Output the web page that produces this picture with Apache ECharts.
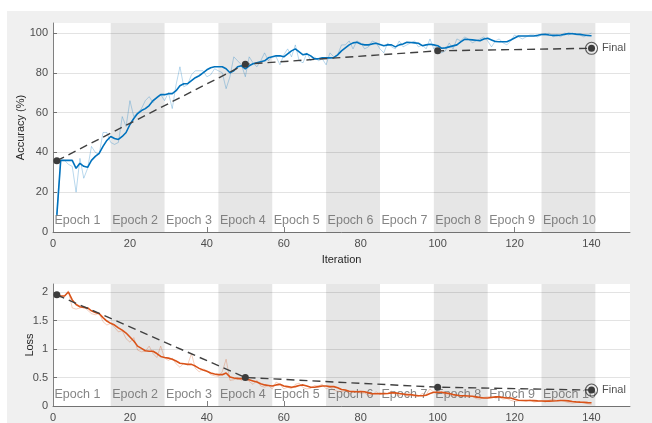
<!DOCTYPE html>
<html>
<head>
<meta charset="utf-8">
<script src="https://cdn.jsdelivr.net/npm/echarts@6/dist/echarts.min.js"></script>
<style>
  html, body { margin: 0; padding: 0; background: #fff; }
  #chart { width: 652px; height: 423px; }
</style>
</head>
<body>
<div id="chart"></div>
<script>
// Mini-batch accuracy (%) per iteration 1..140
const accRaw = [
  8, 36, 36, 34, 33, 20, 37, 27, 32, 43,
  40, 39, 50, 50, 45, 44, 45, 58, 53, 66,
  58, 60, 62, 66, 68, 65, 68, 69, 66, 70,
  62, 74, 83, 73, 74, 79, 81, 81, 81, 78,
  79, 82, 81, 80, 72, 78, 88, 86, 84, 78,
  88, 85, 83, 86, 90, 86, 88, 88, 84, 89,
  92, 88, 94, 86, 85, 90, 86, 88, 86, 87,
  84, 90, 88, 89, 94, 94, 96, 92, 96, 95,
  92, 93, 96, 95, 92, 90, 95, 93, 92, 96,
  93, 94, 95, 96, 93, 94, 92, 97, 92, 94,
  90, 91, 95, 92, 97, 96, 98, 97, 95, 96,
  97, 98, 96, 93, 96, 97, 95, 94, 96, 99,
  98, 97, 98, 99, 99, 98, 99, 99, 100, 98,
  99, 98, 100, 99, 100, 99, 99, 98, 99, 100
];
// Smoothed training accuracy (%)
const accSmooth = [
  8.6, 36, 36, 36, 36, 32, 34.5, 33, 32.5, 36,
  38, 39.5, 43, 46, 48, 47, 46.5, 48, 50, 54,
  57, 59.5, 61, 62, 63.5, 66, 67.5, 69, 69, 69.5,
  69.5, 71, 73.5, 74.5, 74.5, 76, 77.5, 78.5, 80, 81.5,
  82.5, 83, 83, 83, 82, 80, 81, 83, 83.5, 82,
  83.5, 84.5, 85, 85.5, 86, 87.5, 88, 88.5, 88.5, 88,
  89.5, 91, 92, 90.5, 89, 89.5, 88.5, 87, 87, 87.5,
  87.5, 87.5, 87.6, 89, 91, 92.5, 94, 95, 95.3, 94.5,
  94, 94, 94.5, 94.8, 94.2, 93.6, 94, 94, 93, 94,
  94.5, 95.3, 95.2, 95, 94.8, 93.6, 94, 94.3, 94, 93.6,
  92.3, 92.5, 93, 93.5, 94, 95.5, 96.8, 96.7, 96.5, 96.3,
  96.1, 97, 97.3, 96.5, 95.7, 95.6, 95.6, 95.6, 96.5, 97.5,
  98.5, 98.5, 98.5, 98.5, 98.5, 98.8, 99.2, 99.3, 99, 98.8,
  98.8, 99, 99.3, 99.7, 99.6, 99.4, 99.3, 99, 98.7, 98.6
];
// Mini-batch loss per iteration
const lossRaw = [
  1.96, 1.9, 1.92, 2.02, 1.72, 1.7, 1.72, 1.74, 1.68, 1.62,
  1.6, 1.63, 1.48, 1.42, 1.45, 1.38, 1.3, 1.32, 1.18, 1.12,
  1.2, 0.98, 0.95, 0.96, 1.05, 0.92, 0.85, 1.05, 0.84, 0.8,
  0.84, 0.74, 0.68, 0.75, 0.72, 0.92, 0.66, 0.6, 0.65, 0.62,
  0.55, 0.53, 0.52, 0.6, 0.82, 0.45, 0.46, 0.5, 0.45, 0.52,
  0.43, 0.38, 0.45, 0.35, 0.33, 0.36, 0.3, 0.42, 0.38, 0.3,
  0.33, 0.3, 0.38, 0.4, 0.32, 0.3, 0.31, 0.36, 0.35, 0.38,
  0.3, 0.33, 0.28, 0.26, 0.25, 0.27, 0.22, 0.24, 0.26, 0.22,
  0.23, 0.18, 0.2, 0.25, 0.2, 0.24, 0.22, 0.26, 0.2, 0.18,
  0.22, 0.17, 0.2, 0.16, 0.17, 0.22, 0.2, 0.3, 0.24, 0.2,
  0.25, 0.19, 0.2, 0.15, 0.2, 0.16, 0.19, 0.15, 0.17, 0.13,
  0.12, 0.15, 0.16, 0.17, 0.14, 0.15, 0.12, 0.13, 0.1, 0.08,
  0.09, 0.1, 0.08, 0.11, 0.07, 0.08, 0.09, 0.07, 0.1, 0.12,
  0.09, 0.1, 0.08, 0.06, 0.05, 0.06, 0.07, 0.05, 0.04, 0.03
];
// Smoothed training loss
const lossSmooth = [
  1.96, 1.93, 1.93, 2.0, 1.86, 1.78, 1.74, 1.73, 1.72, 1.67,
  1.64, 1.62, 1.55, 1.49, 1.45, 1.42, 1.37, 1.33, 1.28, 1.21,
  1.14, 1.05, 1.01, 0.97, 0.96, 0.96, 0.92, 0.87, 0.85, 0.84,
  0.82, 0.79, 0.75, 0.74, 0.73, 0.73, 0.7, 0.66, 0.63, 0.61,
  0.58, 0.56, 0.55, 0.55, 0.58, 0.51, 0.49, 0.48, 0.48, 0.47,
  0.46, 0.44, 0.42, 0.39, 0.37, 0.36, 0.35, 0.37, 0.38, 0.35,
  0.34, 0.33, 0.34, 0.36, 0.37, 0.35, 0.33, 0.33, 0.34, 0.35,
  0.35, 0.34, 0.34, 0.32, 0.29, 0.28, 0.26, 0.255, 0.25, 0.255,
  0.25, 0.23, 0.215, 0.215, 0.22, 0.215, 0.22, 0.23, 0.23, 0.22,
  0.21, 0.2, 0.2, 0.19, 0.18, 0.18, 0.19, 0.22, 0.24, 0.24,
  0.24, 0.23, 0.22, 0.2, 0.19, 0.18, 0.18, 0.175, 0.17, 0.16,
  0.15, 0.14, 0.14, 0.15, 0.16, 0.16, 0.15, 0.14, 0.14, 0.12,
  0.1, 0.097, 0.097, 0.097, 0.095, 0.09, 0.088, 0.085, 0.085, 0.088,
  0.092, 0.097, 0.097, 0.09, 0.08, 0.072, 0.068, 0.065, 0.06, 0.056
];
// Validation checkpoints
const valIter = [1, 50, 100, 140];
const valAcc = [35.8, 84.3, 91.0, 92.3];
const valLoss = [1.95, 0.5, 0.33, 0.28];

// Epoch spans (in iterations)
const epochNames = ['Epoch 1', 'Epoch 2', 'Epoch 3', 'Epoch 4', 'Epoch 5',
                    'Epoch 6', 'Epoch 7', 'Epoch 8', 'Epoch 9', 'Epoch 10'];
const epochStart = [0, 15, 29, 43, 57, 71, 85, 99, 113, 127];
const epochEnd   = [15, 29, 43, 57, 71, 85, 99, 113, 127, 141];

// Axis ticks
const xTicks = [0, 20, 40, 60, 80, 100, 120, 140];
const accTicks = [0, 20, 40, 60, 80, 100];
const lossTicks = [0, 0.5, 1, 1.5, 2];

const FONT = 'Liberation Sans, Arial, Helvetica, sans-serif';
const pairs = (arr) => arr.map((v, i) => [i + 1, v]);
const valPairs = (vals) => valIter.map((it, i) => [it, vals[i]]);

// alternate epochs are shaded grey
function epochAreas() {
  return epochNames.map((name, i) => [
    { xAxis: epochStart[i], itemStyle: { color: i % 2 === 1 ? '#e6e6e6' : 'rgba(0,0,0,0)' } },
    { xAxis: epochEnd[i] }
  ]);
}

function axisX(gridIndex, showName) {
  return {
    type: 'value', gridIndex: gridIndex, min: 0, max: 150, interval: 20,
    name: showName ? 'Iteration' : '',
    nameLocation: 'middle', nameGap: 22, nameMoveOverlap: false,
    nameTextStyle: { color: '#262626', fontSize: 11, fontFamily: FONT },
    axisLine: { show: true, lineStyle: { color: '#808080', width: 1 } },
    axisTick: { show: true, inside: true, length: 5, customValues: xTicks,
                lineStyle: { color: '#808080' } },
    axisLabel: { customValues: xTicks, color: '#4d4d4d', fontSize: 11,
                 fontFamily: FONT, margin: 6 },
    splitLine: { show: false }
  };
}

function axisY(gridIndex, name, max, interval, ticks, gap) {
  return {
    type: 'value', gridIndex: gridIndex, min: 0, max: max, interval: interval,
    name: name, nameLocation: 'middle', nameGap: gap, nameRotate: 90,
    nameMoveOverlap: false,
    nameTextStyle: { color: '#262626', fontSize: 11, fontFamily: FONT },
    axisLine: { show: true, lineStyle: { color: '#808080', width: 1 } },
    axisTick: { show: true, inside: true, length: 4, customValues: ticks,
                lineStyle: { color: '#808080' } },
    axisLabel: { customValues: ticks, color: '#4d4d4d', fontSize: 11,
                 fontFamily: FONT, margin: 5 },
    splitLine: { show: false }
  };
}

function panelSeries(idx, ticks, raw, smooth, val, mainColor, rawColor) {
  return [
    { // epoch bands
      type: 'line', xAxisIndex: idx, yAxisIndex: idx, data: [], z: 0, silent: true,
      markArea: { silent: true, label: { show: false }, data: epochAreas() }
    },
    { // horizontal grid lines
      type: 'line', xAxisIndex: idx, yAxisIndex: idx, data: [], z: 1, silent: true,
      markLine: {
        silent: true, symbol: ['none', 'none'], label: { show: false },
        lineStyle: { type: 'solid', color: 'rgba(0,0,0,0.11)', width: 1 },
        data: ticks.map((v) => ({ yAxis: v }))
      }
    },
    { // epoch names along the bottom of the panel
      type: 'scatter', xAxisIndex: idx, yAxisIndex: idx, z: 1, silent: true,
      data: epochNames.map((name, i) => ({ name: name, value: [epochStart[i], 0] })),
      symbolSize: 1, itemStyle: { color: 'rgba(0,0,0,0)' },
      label: { show: true, formatter: '{b}', position: [2, -11],
               align: 'left', verticalAlign: 'middle',
               color: '#666666', fontSize: 12.5, fontFamily: FONT }
    },
    // curves sit on their own layer, above the epoch names
    {
      type: 'line', xAxisIndex: idx, yAxisIndex: idx, zlevel: 1, z: 2, silent: true,
      data: pairs(raw), symbol: 'none',
      lineStyle: { color: rawColor, width: 1 }
    },
    {
      type: 'line', xAxisIndex: idx, yAxisIndex: idx, zlevel: 1, z: 3, silent: true,
      data: pairs(smooth), symbol: 'none',
      lineStyle: { color: mainColor, width: 1.6 }
    },
    { // validation
      type: 'line', xAxisIndex: idx, yAxisIndex: idx, zlevel: 1, z: 4, silent: true,
      data: valPairs(val), symbol: 'circle', symbolSize: 7,
      itemStyle: { color: '#3c3c3c' },
      lineStyle: { color: '#404040', width: 1.4, type: [8, 5] }
    },
    { // final validation ring
      type: 'scatter', xAxisIndex: idx, yAxisIndex: idx, zlevel: 1, z: 5, silent: true,
      data: [[valIter[valIter.length - 1], val[val.length - 1]]],
      symbol: 'circle', symbolSize: 12,
      itemStyle: { color: 'rgba(0,0,0,0)', borderColor: '#333333', borderWidth: 1.1 },
      label: { show: true, position: 'right', distance: 4, formatter: 'Final',
               color: '#262626', fontSize: 11, fontFamily: FONT }
    }
  ];
}

const chart = echarts.init(document.getElementById('chart'), null, { renderer: 'canvas' });
chart.setOption({
  animation: false,
  backgroundColor: '#f0f0f0',
  graphic: [
    { type: 'rect', shape: { x: 0, y: 0, width: 652, height: 11 }, style: { fill: '#ffffff' }, silent: true },
    { type: 'rect', shape: { x: 0, y: 0, width: 7, height: 423 }, style: { fill: '#ffffff' }, silent: true }
  ],
  grid: [
    { left: 53, right: 22, top: 23, bottom: 191, show: true, backgroundColor: '#ffffff', borderWidth: 0 },
    { left: 53, right: 22, top: 284, bottom: 13, show: true, backgroundColor: '#ffffff', borderWidth: 0 }
  ],
  xAxis: [axisX(0, true), axisX(1, false)],
  yAxis: [
    axisY(0, 'Accuracy (%)', 105, 20, accTicks, 27),
    axisY(1, 'Loss', 2.14, 0.5, lossTicks, 18)
  ],
  series: [
    ...panelSeries(0, accTicks, accRaw, accSmooth, valAcc, '#0072bd', 'rgba(0,114,189,0.28)'),
    ...panelSeries(1, lossTicks, lossRaw, lossSmooth, valLoss, '#d95319', 'rgba(217,83,25,0.28)')
  ]
});
</script>
</body>
</html>
